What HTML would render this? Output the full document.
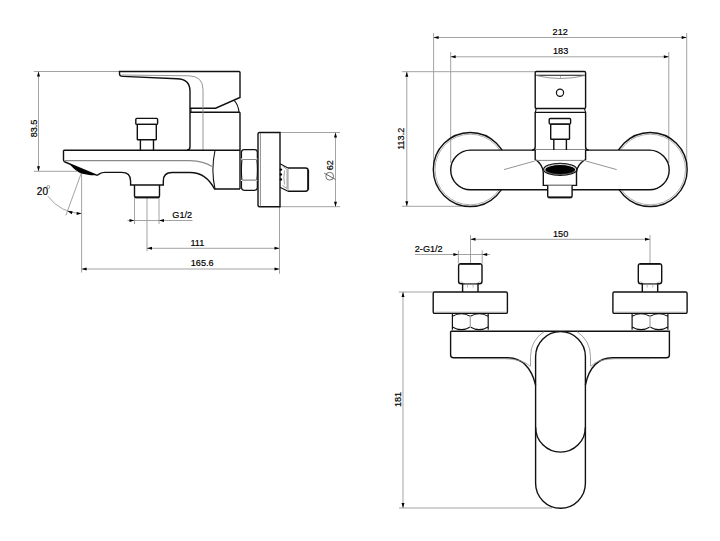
<!DOCTYPE html>
<html><head><meta charset="utf-8"><style>
html,body{margin:0;padding:0;background:#fff;}
svg{display:block;}
text{font-family:"Liberation Sans",sans-serif;fill:#000;stroke:#000;stroke-width:0.2;}
</style></head><body>
<svg width="720" height="541" viewBox="0 0 720 541">
<rect width="720" height="541" fill="#fff"/>
<line x1="33.8" y1="71.5" x2="119.5" y2="71.5" stroke="#999" stroke-width="0.9"/>
<line x1="33.8" y1="171.3" x2="77" y2="171.3" stroke="#999" stroke-width="0.9"/>
<line x1="38.5" y1="71.5" x2="38.5" y2="171.3" stroke="#999" stroke-width="0.9"/>
<path d="M38.50,71.50 L40.00,76.50 L37.00,76.50 Z" fill="#000"/>
<path d="M38.50,171.30 L37.00,166.30 L40.00,166.30 Z" fill="#000"/>
<text x="0" y="0" font-size="9.6" text-anchor="middle" transform="translate(36.7 128.5) rotate(-90) scale(0.95 1)">83.5</text>
<line x1="280" y1="132.5" x2="340" y2="132.5" stroke="#999" stroke-width="0.9"/>
<line x1="280" y1="206.7" x2="340" y2="206.7" stroke="#999" stroke-width="0.9"/>
<line x1="335.5" y1="132.5" x2="335.5" y2="206.7" stroke="#999" stroke-width="0.9"/>
<path d="M335.50,132.50 L337.00,137.50 L334.00,137.50 Z" fill="#000"/>
<path d="M335.50,206.70 L334.00,201.70 L337.00,201.70 Z" fill="#000"/>
<text x="0" y="0" font-size="9.6" text-anchor="middle" transform="translate(333.40000000000003 165.2) rotate(-90) scale(0.95 1)">62</text>
<circle cx="329.7" cy="176.2" r="3.9" stroke="#666" stroke-width="0.9" fill="none"/>
<line x1="324.2" y1="173.1" x2="335.3" y2="179.4" stroke="#555" stroke-width="0.9"/>
<line x1="134.5" y1="198" x2="134.5" y2="224" stroke="#999" stroke-width="0.9"/>
<line x1="159" y1="198" x2="159" y2="224" stroke="#999" stroke-width="0.9"/>
<line x1="127.5" y1="220.5" x2="192.5" y2="220.5" stroke="#999" stroke-width="0.9"/>
<path d="M134.50,220.50 L129.50,222.00 L129.50,219.00 Z" fill="#000"/>
<path d="M159.00,220.50 L164.00,219.00 L164.00,222.00 Z" fill="#000"/>
<text x="0" y="0" font-size="9.6" text-anchor="start" transform="translate(172.3 217.9) scale(0.95 1)">G1/2</text>
<line x1="147" y1="198" x2="147" y2="251.3" stroke="#999" stroke-width="0.9"/>
<line x1="147" y1="248.3" x2="279.5" y2="248.3" stroke="#999" stroke-width="0.9"/>
<path d="M147.00,248.30 L152.00,246.80 L152.00,249.80 Z" fill="#000"/>
<path d="M279.50,248.30 L274.50,249.80 L274.50,246.80 Z" fill="#000"/>
<text x="0" y="0" font-size="9.6" text-anchor="middle" transform="translate(197.3 245.5) scale(0.95 1)">111</text>
<line x1="81.6" y1="173" x2="81.6" y2="272.5" stroke="#999" stroke-width="0.9"/>
<line x1="81.6" y1="269" x2="279.5" y2="269" stroke="#999" stroke-width="0.9"/>
<path d="M81.60,269.00 L86.60,267.50 L86.60,270.50 Z" fill="#000"/>
<path d="M279.50,269.00 L274.50,270.50 L274.50,267.50 Z" fill="#000"/>
<text x="0" y="0" font-size="9.6" text-anchor="middle" transform="translate(202.2 266.29999999999995) scale(0.95 1)">165.6</text>
<line x1="279.5" y1="207" x2="279.5" y2="273.8" stroke="#999" stroke-width="0.9"/>
<line x1="81.6" y1="172.2" x2="65.86707340701923" y2="215.42586055615178" stroke="#999" stroke-width="0.9"/>
<path d="M47.98,196.18 A41.3,41.3 0 0 0 81.6,213.5" stroke="#999" stroke-width="0.9" fill="none" />
<path d="M67.47,211.01 L72.69,211.31 L71.66,214.13 Z" fill="#000"/>
<path d="M81.60,213.50 L76.60,215.00 L76.60,212.00 Z" fill="#000"/>
<text x="0" y="0" font-size="10.6" text-anchor="start" transform="translate(36.8 194.70000000000002) scale(0.95 1)">20</text>
<circle cx="48.3" cy="187.0" r="1.5" stroke="#777" stroke-width="0.7" fill="none"/>
<path d="M190,108.2 V147 Q190,150 187,150" stroke="#111" stroke-width="1.4" fill="none" />
<path d="M240,112.3 V189" stroke="#111" stroke-width="1.4" fill="none" />
<path d="M190,112.3 H240" stroke="#111" stroke-width="1.4" fill="none" />
<path d="M191,108.2 V112.3" stroke="#111" stroke-width="1" fill="none" />
<path d="M119.5,71.5 H239 Q240,71.5 240,72.5 V97.5 L215.6,108.2 H190 V91 Q190,79 177,78.7 L123,76.4 Q119.5,76.3 119.5,74 Z" stroke="#111" stroke-width="1.4" fill="none" />
<path d="M233.9,100.1 Q238.3,104.5 239,112.3" stroke="#111" stroke-width="1.1" fill="none" />
<path d="M122,75 L189,75.8 Q203,76.2 203,89.5 V150" stroke="#8a8a8a" stroke-width="0.9" fill="none" />
<rect x="135.8" y="118.4" width="21.8" height="6" rx="1" stroke="#111" stroke-width="1.4" fill="none"/>
<rect x="137.3" y="124.4" width="19" height="15.3" rx="0.5" stroke="#111" stroke-width="1.4" fill="none"/>
<path d="M140.4,139.7 V150 M153.5,139.7 V150" stroke="#111" stroke-width="1.4" fill="none" />
<path d="M63.5,150.3 H240" stroke="#111" stroke-width="1.4" fill="none" />
<path d="M63.5,150.3 V160 Q63.5,161.4 65,162 L97.2,175.3 L99.4,173.9 Q101.5,172.4 105,172.4 H121.7 Q130.6,172.4 130.6,181 V185 H163.3 V181 Q163.3,172.5 172,172.5 H190 Q206,172.5 214.5,189 H240" stroke="#111" stroke-width="1.4" fill="none" />
<path d="M64.5,160.6 H190 Q204,161 212,166.5" stroke="#8a8a8a" stroke-width="1.1" fill="none" />
<path d="M69,163.8 L97.2,175.3 Q86,175.5 79,172.5 Q73.5,169 69,163.8 Z" stroke="none" stroke-width="1.4" fill="#000" />
<path d="M215,150.5 Q210.8,169.7 215,189" stroke="#111" stroke-width="1.1" fill="none" />
<path d="M134.5,185 V196 Q134.5,197.5 136,197.5 H158 Q159.5,197.5 159.5,196 V185" stroke="#111" stroke-width="1.4" fill="none" />
<path d="M135,197.3 H159" stroke="#111" stroke-width="1.8" fill="none" />
<path d="M241.5,158.5 V152.3 Q241.5,149.6 244.2,149.6 H254.6 Q257.3,149.6 257.3,152.3 V158.5" stroke="#111" stroke-width="1.15" fill="none" />
<path d="M241.5,181 V187.6 Q241.5,190.3 244.2,190.3 H254.6 Q257.3,190.3 257.3,187.6 V181" stroke="#111" stroke-width="1.15" fill="none" />
<path d="M241.9,159.6 Q240.9,169.8 241.9,180 M256.9,159.6 Q257.9,169.8 256.9,180" stroke="#111" stroke-width="1.15" fill="none" />
<path d="M242.2,159.5 H256.6 M242.2,180.1 H256.6" stroke="#8a8a8a" stroke-width="1.1" fill="none" />
<path d="M258,134 Q258,132.5 259.5,132.5 H280 V206.7 H259.5 Q258,206.7 258,205.2 Z" stroke="#111" stroke-width="1.4" fill="none" />
<path d="M260.4,133 V206.3" stroke="#8a8a8a" stroke-width="1" fill="none" />
<path d="M280,163.8 L288,168 M280,187.2 L288,191.3" stroke="#111" stroke-width="1.1" fill="none" />
<path d="M288,168 H305.5 Q308.2,168 308.2,170.7 V188.6 Q308.2,191.3 305.5,191.3 H288" stroke="#111" stroke-width="1.4" fill="none" />
<path d="M288,168.5 V190.8" stroke="#8a8a8a" stroke-width="0.9" fill="none" />
<path d="M308.2,170 V189.5" stroke="#111" stroke-width="1.8" fill="none" />
<path d="M282.5,166 L287,169.5 V188.5 L282.5,185.5" stroke="#8a8a8a" stroke-width="0.8" fill="none" />
<path d="M284.5,170.5 Q283.3,177.5 284.5,184.5" stroke="#8a8a8a" stroke-width="0.8" fill="none" />
<circle cx="280.9" cy="169.6" r="1.2" stroke="none" stroke-width="1.4" fill="#000"/>
<circle cx="280.9" cy="174.4" r="1.2" stroke="none" stroke-width="1.4" fill="#000"/>
<circle cx="280.9" cy="179.4" r="1.2" stroke="none" stroke-width="1.4" fill="#000"/>
<line x1="433.6" y1="33" x2="433.6" y2="165" stroke="#999" stroke-width="0.9"/>
<line x1="686.7" y1="33" x2="686.7" y2="165" stroke="#999" stroke-width="0.9"/>
<line x1="433.6" y1="37.5" x2="686.7" y2="37.5" stroke="#999" stroke-width="0.9"/>
<path d="M433.60,37.50 L438.60,36.00 L438.60,39.00 Z" fill="#000"/>
<path d="M686.70,37.50 L681.70,39.00 L681.70,36.00 Z" fill="#000"/>
<text x="0" y="0" font-size="9.6" text-anchor="middle" transform="translate(560.2 34.9) scale(0.95 1)">212</text>
<line x1="450.7" y1="52" x2="450.7" y2="163" stroke="#999" stroke-width="0.9"/>
<line x1="668.8" y1="52" x2="668.8" y2="163" stroke="#999" stroke-width="0.9"/>
<line x1="450.7" y1="56.8" x2="668.8" y2="56.8" stroke="#999" stroke-width="0.9"/>
<path d="M450.70,56.80 L455.70,55.30 L455.70,58.30 Z" fill="#000"/>
<path d="M668.80,56.80 L663.80,58.30 L663.80,55.30 Z" fill="#000"/>
<text x="0" y="0" font-size="9.6" text-anchor="middle" transform="translate(560.6 54.1) scale(0.95 1)">183</text>
<line x1="402" y1="71.7" x2="535" y2="71.7" stroke="#999" stroke-width="0.9"/>
<line x1="402" y1="206.3" x2="462" y2="206.3" stroke="#999" stroke-width="0.9"/>
<line x1="406.8" y1="71.7" x2="406.8" y2="206.3" stroke="#999" stroke-width="0.9"/>
<path d="M406.80,71.70 L408.30,76.70 L405.30,76.70 Z" fill="#000"/>
<path d="M406.80,206.30 L405.30,201.30 L408.30,201.30 Z" fill="#000"/>
<text x="0" y="0" font-size="9.6" text-anchor="middle" transform="translate(403.90000000000003 138.8) rotate(-90) scale(0.95 1)">113.2</text>
<circle cx="470.3" cy="169.5" r="37" stroke="#111" stroke-width="1.4" fill="none"/>
<circle cx="470.3" cy="169.5" r="35.3" stroke="#8a8a8a" stroke-width="0.7" fill="none"/>
<circle cx="650.2" cy="169.5" r="37" stroke="#111" stroke-width="1.4" fill="none"/>
<circle cx="650.2" cy="169.5" r="35.3" stroke="#8a8a8a" stroke-width="0.7" fill="none"/>
<path d="M470.5,150.1 H649.4 A19.8,19.8 0 0 1 649.4,189.7 H470.5 A19.8,19.8 0 0 1 470.5,150.1 Z" stroke="#111" stroke-width="1.4" fill="#fff" />
<path d="M535.2,112.4 V147 Q535.2,150.1 532,150.1 M585.6,112.4 V147 Q585.6,150.1 588.8,150.1" stroke="#111" stroke-width="1.4" fill="none" />
<path d="M535.2,108.6 L536.3,108.6 L535.2,112.4 H585.6 L584.5,108.6" stroke="#111" stroke-width="1.1" fill="none" />
<rect x="535.2" y="71.5" width="50.4" height="37" rx="1.2" stroke="#111" stroke-width="1.4" fill="#fff"/>
<path d="M535.5,75.2 H585.3" stroke="#111" stroke-width="1.1" fill="none" />
<path d="M536,75.5 Q560.4,81.5 585,75.5" stroke="#8a8a8a" stroke-width="0.9" fill="none" />
<path d="M560.5,76 V78.6" stroke="#8a8a8a" stroke-width="0.7" fill="none" />
<circle cx="560" cy="92.8" r="3.6" stroke="#111" stroke-width="1.2" fill="none"/>
<rect x="549.2" y="118.5" width="21.4" height="5.6" rx="1" stroke="#111" stroke-width="1.4" fill="none"/>
<rect x="550.7" y="124.1" width="18.8" height="15.1" rx="0.5" stroke="#111" stroke-width="1.4" fill="none"/>
<path d="M553.8,139.2 V150 M566.4,139.2 V150" stroke="#111" stroke-width="1.4" fill="none" />
<path d="M535.2,150.1 V159.5 Q542.5,164 543.3,172.5 V185.4 H576.5 V172.5 Q577.3,164 585.6,159.5 V150.1" stroke="#111" stroke-width="1.4" fill="#fff" />
<path d="M535.4,160.4 H585.4" stroke="#777" stroke-width="0.9" fill="none" />
<path d="M504,169.6 L534.8,161" stroke="#666" stroke-width="0.7" fill="none" />
<path d="M585.8,161 L616.7,169.6" stroke="#666" stroke-width="0.7" fill="none" />
<ellipse cx="560.2" cy="169.4" rx="16.6" ry="6.0" stroke="#111" stroke-width="1.2" fill="none"/>
<ellipse cx="560.2" cy="170.0" rx="15.0" ry="4.9" stroke="none" stroke-width="1.4" fill="#000"/>
<ellipse cx="560.2" cy="169.3" rx="15.5" ry="5.2" stroke="#999" stroke-width="0.6" fill="none"/>
<path d="M547.7,185.4 V196 Q547.7,197.6 549.3,197.6 H570.5 Q572.1,197.6 572.1,196 V185.4" stroke="#111" stroke-width="1.4" fill="#fff" />
<path d="M548.2,197.3 H571.6" stroke="#111" stroke-width="1.8" fill="none" />
<line x1="470.5" y1="235" x2="470.5" y2="263.5" stroke="#999" stroke-width="0.9"/>
<line x1="650" y1="235" x2="650" y2="263.5" stroke="#999" stroke-width="0.9"/>
<line x1="470.5" y1="239.3" x2="650" y2="239.3" stroke="#999" stroke-width="0.9"/>
<path d="M470.50,239.30 L475.50,237.80 L475.50,240.80 Z" fill="#000"/>
<path d="M650.00,239.30 L645.00,240.80 L645.00,237.80 Z" fill="#000"/>
<text x="0" y="0" font-size="9.6" text-anchor="middle" transform="translate(560.6 236.70000000000002) scale(0.95 1)">150</text>
<line x1="458.4" y1="250.5" x2="458.4" y2="263.5" stroke="#999" stroke-width="0.9"/>
<line x1="482.2" y1="250.5" x2="482.2" y2="263.5" stroke="#999" stroke-width="0.9"/>
<line x1="415" y1="254.5" x2="490" y2="254.5" stroke="#999" stroke-width="0.9"/>
<path d="M458.40,254.50 L453.40,256.00 L453.40,253.00 Z" fill="#000"/>
<path d="M482.20,254.50 L487.20,253.00 L487.20,256.00 Z" fill="#000"/>
<text x="0" y="0" font-size="9.6" text-anchor="start" transform="translate(414.8 252.4) scale(0.95 1)">2-G1/2</text>
<line x1="398.8" y1="292" x2="433.6" y2="292" stroke="#999" stroke-width="0.9"/>
<line x1="399" y1="508" x2="552" y2="508" stroke="#999" stroke-width="0.9"/>
<line x1="403" y1="292" x2="403" y2="508" stroke="#999" stroke-width="0.9"/>
<path d="M403.00,292.00 L404.50,297.00 L401.50,297.00 Z" fill="#000"/>
<path d="M403.00,508.00 L401.50,503.00 L404.50,503.00 Z" fill="#000"/>
<text x="0" y="0" font-size="9.6" text-anchor="middle" transform="translate(401.3 399.5) rotate(-90) scale(0.95 1)">181</text>
<path d="M458.6,266 Q458.6,263.6 461.0,263.6 H479.6 Q482.0,263.6 482.0,266 V281.3 Q482.0,283.8 479.5,283.8 H461.1 Q458.6,283.8 458.6,281.3 Z" stroke="#111" stroke-width="1.4" fill="none" />
<path d="M460.3,263.9 H480.3" stroke="#111" stroke-width="1.8" fill="none" />
<path d="M460.8,281.2 Q462.3,283.5 464.3,283.5 H476.3 Q478.3,283.5 479.8,281.2" stroke="#8a8a8a" stroke-width="0.7" fill="none" />
<path d="M467.5,283.5 V287.5 M473.1,283.5 V287.5" stroke="#8a8a8a" stroke-width="0.6" fill="none" />
<path d="M462.6,283.8 V292 M478.0,283.8 V292" stroke="#111" stroke-width="1.4" fill="none" />
<rect x="433.2" y="292" width="74.2" height="21.4" rx="1.5" stroke="#111" stroke-width="1.4" fill="none"/>
<path d="M434.8,312.2 H505.8" stroke="#8a8a8a" stroke-width="0.7" fill="none" />
<path d="M452.40000000000003,313.4 V329.7 M488.2,313.4 V329.7" stroke="#111" stroke-width="1.2" fill="none" />
<path d="M452.40000000000003,316.3 Q461.35,311.2 470.3,316.3 M452.40000000000003,327 Q461.35,332.3 470.3,327" stroke="#111" stroke-width="1.1" fill="none" />
<path d="M470.3,316.3 Q479.25,311.2 488.2,316.3 M470.3,327 Q479.25,332.3 488.2,327" stroke="#111" stroke-width="1.1" fill="none" />
<path d="M470.3,315.5 V328" stroke="#aaa" stroke-width="1.3" fill="none" />
<path d="M638.3,266 Q638.3,263.6 640.7,263.6 H659.3 Q661.7,263.6 661.7,266 V281.3 Q661.7,283.8 659.2,283.8 H640.8 Q638.3,283.8 638.3,281.3 Z" stroke="#111" stroke-width="1.4" fill="none" />
<path d="M640,263.9 H660" stroke="#111" stroke-width="1.8" fill="none" />
<path d="M640.5,281.2 Q642,283.5 644,283.5 H656 Q658,283.5 659.5,281.2" stroke="#8a8a8a" stroke-width="0.7" fill="none" />
<path d="M647.2,283.5 V287.5 M652.8,283.5 V287.5" stroke="#8a8a8a" stroke-width="0.6" fill="none" />
<path d="M642.3,283.8 V292 M657.7,283.8 V292" stroke="#111" stroke-width="1.4" fill="none" />
<rect x="612.9" y="292" width="74.2" height="21.4" rx="1.5" stroke="#111" stroke-width="1.4" fill="none"/>
<path d="M614.5,312.2 H685.5" stroke="#8a8a8a" stroke-width="0.7" fill="none" />
<path d="M632.1,313.4 V329.7 M667.9,313.4 V329.7" stroke="#111" stroke-width="1.2" fill="none" />
<path d="M632.1,316.3 Q641.05,311.2 650,316.3 M632.1,327 Q641.05,332.3 650,327" stroke="#111" stroke-width="1.1" fill="none" />
<path d="M650,316.3 Q658.95,311.2 667.9,316.3 M650,327 Q658.95,332.3 667.9,327" stroke="#111" stroke-width="1.1" fill="none" />
<path d="M650,315.5 V328" stroke="#aaa" stroke-width="1.3" fill="none" />
<path d="M450.6,331.3 H669.4 V355 Q669.4,357.7 666.5,357.7 H612.5 Q591,358 585.4,385 M450.6,331.3 V355 Q450.6,357.7 453.5,357.7 H507.5 Q529,358 535.6,385" stroke="#111" stroke-width="1.4" fill="none" />
<path d="M470,358.7 H505 Q523,359 530.4,366.5 M650,358.7 H615 Q597,359 590.6,366.5" stroke="#8a8a8a" stroke-width="0.8" fill="none" />
<path d="M530.5,366 V356.5 A30,30 0 0 1 544.1,331.6 M590.5,366 V356.5 A30,30 0 0 0 576.9,331.6" stroke="#8a8a8a" stroke-width="0.8" fill="none" />
<path d="M535.6,356.5 V483.3 A24.9,24.9 0 0 0 585.4,483.3 V356.5 A24.9,24.9 0 0 0 535.6,356.5 Z" stroke="#111" stroke-width="1.4" fill="none" />
<path d="M535.6,427.2 A24.9,24.9 0 0 0 585.4,427.2" stroke="#111" stroke-width="1.4" fill="none" />
</svg>
</body></html>
